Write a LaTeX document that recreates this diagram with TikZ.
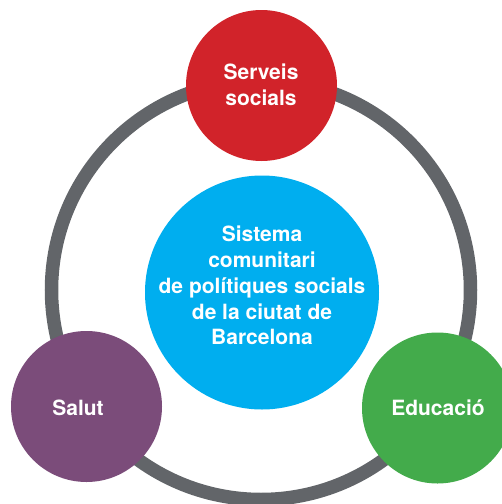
\documentclass[tikz,border=0pt]{standalone}
\usepackage{fontspec}
\setmainfont{TeX Gyre Heros}
\definecolor{ringgray}{HTML}{626569}
\definecolor{socred}{HTML}{D1232A}
\definecolor{salpurple}{HTML}{7B4C7A}
\definecolor{edugreen}{HTML}{43AB4B}
\definecolor{sysblue}{HTML}{00AEEF}
\tikzset{
  bubble/.style={circle, inner sep=0pt, minimum size=151pt},
  lbl/.style={text=white, font=\bfseries\fontsize{21}{25.8}\selectfont, align=center, inner sep=0pt},
}
\begin{document}
\begin{tikzpicture}[x=1pt,y=-1pt]
\useasboundingbox (0,0) rectangle (502,504);
\clip (0,0) rectangle (502,504);
\coordinate (c) at (261,290);
\draw[ringgray, line width=13.5pt] (c) circle[radius=209.5];
\node[bubble, fill=sysblue, minimum size=234pt] (sys) at (262,292.5) {};
\node[bubble, fill=socred] (soc) at (261.5,85.5) {};
\node[bubble, fill=salpurple] (sal) at (86.5,406.5) {};
\node[bubble, fill=edugreen] (edu) at (437.5,408) {};
\node[lbl] (systxt) at (262,285.5) {Sistema\\comunitari\\de polítiques socials\\de la ciutat de\\Barcelona};
\node[lbl] (soctxt) at (261,85) {Serveis\\socials};
\node[lbl, anchor=base] (saltxt) at (78,415) {Salut};
\node[lbl, anchor=base] (edutxt) at (438,415) {Educació};
\end{tikzpicture}
\end{document}
